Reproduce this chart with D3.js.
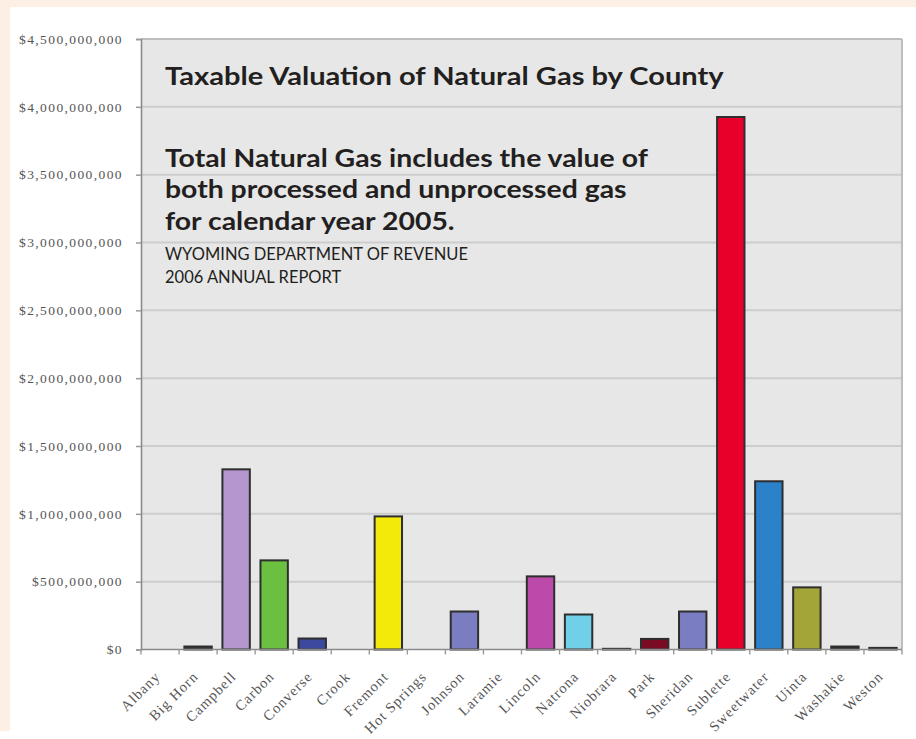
<!DOCTYPE html>
<html><head><meta charset="utf-8">
<script src="https://cdn.jsdelivr.net/npm/d3@7"></script>
<style>html,body{margin:0;padding:0;background:#fff;}svg{display:block;}</style>
</head><body>
<svg id="c" width="916" height="739"></svg>
<script>
const counties = ["Albany","Big Horn","Campbell","Carbon","Converse","Crook","Fremont","Hot Springs","Johnson","Laramie","Lincoln","Natrona","Niobrara","Park","Sheridan","Sublette","Sweetwater","Uinta","Washakie","Weston"];
const values = [0,22e6,1328e6,657e6,81e6,0,981e6,0,280e6,0,539e6,258e6,5e6,78e6,280e6,3925e6,1240e6,458e6,22e6,12e6];
const barColors = ["#888","#3a3a3a","#b596cf","#6cc040","#3b4a9e","#888","#f3ea0a","#888","#7b7dc2","#888","#bb4aaa","#70d0e8","#444","#7a0b24","#7b7dc2","#e8002b","#2b82c9","#a4a538","#333","#333"];
const yTicks = [0,5e8,1e9,1.5e9,2e9,2.5e9,3e9,3.5e9,4e9,4.5e9];
const titleText = "Taxable Valuation of Natural Gas by County";
const noteLines = ["Total Natural Gas includes the value of","both processed and unprocessed gas","for calendar year 2005."];
const sourceLines = ["WYOMING DEPARTMENT OF REVENUE","2006 ANNUAL REPORT"];

const svg = d3.select("#c");
svg.append("rect").attr("width",916).attr("height",739).attr("fill","#fff");
svg.append("rect").attr("x",0).attr("y",0).attr("width",916).attr("height",7).attr("fill","#fdefe3");
svg.append("rect").attr("x",0).attr("y",0).attr("width",10).attr("height",731).attr("fill","#fdefe3");

const L=141, R=902, T=39, B=649.5;
const x = d3.scaleBand().domain(counties).range([L,R]).paddingInner(0.28).paddingOuter(0.14);
const xb = d3.scaleBand().domain(counties).range([L,R]);
const y = d3.scaleLinear().domain([0,4.5e9]).range([B,T]);

svg.append("rect").attr("x",L).attr("y",T).attr("width",R-L).attr("height",B-T).attr("fill","#e7e7e7");
svg.append("g").selectAll("line").data(yTicks.slice(1)).join("line")
  .attr("x1",L).attr("x2",R).attr("y1",d=>y(d)).attr("y2",d=>y(d))
  .attr("stroke","#cdcdcd").attr("stroke-width",2);
svg.append("line").attr("x1",L).attr("x2",R).attr("y1",T).attr("y2",T).attr("stroke","#bdbdbd").attr("stroke-width",2);
svg.append("line").attr("x1",R).attr("x2",R).attr("y1",T).attr("y2",B).attr("stroke","#bdbdbd").attr("stroke-width",2);

// y axis
const yAxis = d3.axisLeft(y).tickValues(yTicks).tickSize(5).tickPadding(13)
  .tickFormat(d=>"$"+d3.format(",")(d));
const gy = svg.append("g").attr("transform",`translate(${L},0)`).call(yAxis);
gy.select(".domain").attr("stroke","#8a8a8a").attr("stroke-width",1.6);
gy.selectAll(".tick line").attr("stroke","#9a9a9a").attr("stroke-width",1.5);
gy.selectAll(".tick text").attr("font-family","'Liberation Serif', serif").attr("font-size",13.5)
  .attr("fill","#555").style("letter-spacing","1.4px");

// bars
svg.append("g").selectAll("rect").data(counties).join("rect")
  .attr("x",d=>x(d)).attr("width",x.bandwidth())
  .attr("y",(d,i)=>y(values[i])).attr("height",(d,i)=>B-y(values[i]))
  .attr("fill",(d,i)=>barColors[i]).attr("stroke","#2e2e2e").attr("stroke-width",2)
  .attr("display",(d,i)=>values[i]>0?null:"none");

// x axis
const gx = svg.append("g").attr("transform",`translate(0,${B})`);
gx.append("line").attr("x1",L).attr("x2",R).attr("stroke","#8a8a8a").attr("stroke-width",1.6);
gx.selectAll("line.tk").data(counties.concat(["__end"])).join("line").attr("class","tk")
  .attr("x1",(d,i)=>L+i*xb.bandwidth()).attr("x2",(d,i)=>L+i*xb.bandwidth())
  .attr("y1",0).attr("y2",5).attr("stroke","#9a9a9a").attr("stroke-width",1.4);
gx.selectAll("text").data(counties).join("text")
  .attr("transform",d=>`translate(${xb(d)+xb.bandwidth()/2+1},${28}) rotate(-45)`)
  .attr("text-anchor","end")
  .attr("font-family","'Liberation Serif', serif").attr("font-size",14.5)
  .attr("fill","#555").style("letter-spacing","1px")
  .text(d=>d);

function addText(str, xx, yy, fs, bold){
  return svg.append("text").attr("x",0).attr("y",0)
    .attr("font-family","Lato, 'Open Sans', sans-serif")
    .attr("font-weight",bold?"bold":"normal").attr("font-size",fs).attr("fill","#231f20")
    .attr("transform",`translate(${xx},${yy})`).text(str);
}
function squeeze(sel, target){
  const w = sel.node().getComputedTextLength();
  return w>0 ? target/w : 1;
}
const tt = addText(titleText,165,85,25.5,true);
const ks = squeeze(tt,559);
tt.attr("transform",`translate(165,85) scale(${ks},1)`);

const noteY = [167, 198, 230];
const notes = noteLines.map((s,i)=>addText(s,165,noteY[i],24,true));
const kn = squeeze(notes[0],483);
notes.forEach((t,i)=>t.attr("transform",`translate(165,${noteY[i]}) scale(${kn},1)`));

const srcY = [260, 283];
const srcs = sourceLines.map((s,i)=>addText(s,165,srcY[i],17,false));
const kr = squeeze(srcs[0],303);
srcs.forEach((t,i)=>t.attr("transform",`translate(165,${srcY[i]}) scale(${kr},1)`));
</script>
</body></html>
